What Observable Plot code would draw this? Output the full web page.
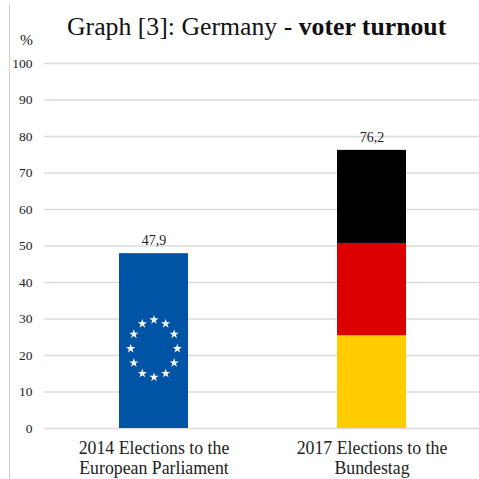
<!DOCTYPE html>
<html>
<head>
<meta charset="utf-8">
<script src="https://cdn.jsdelivr.net/npm/d3@7"></script>
<script src="https://cdn.jsdelivr.net/npm/@observablehq/plot@0.6"></script>
<style>
html,body{margin:0;padding:0;background:#fff;width:479px;height:479px;overflow:hidden;font-family:"Liberation Serif",serif;}
#wrap{position:relative;width:479px;height:479px;}
#vline{position:absolute;left:9px;top:4px;bottom:0;width:1px;background:#cfcfcf;}
#head{position:absolute;left:0;top:0;width:479px;height:46px;}
#title{position:absolute;left:67px;top:11px;font-size:25.75px;line-height:32px;white-space:nowrap;color:#111;}
#unit{position:absolute;left:20px;top:31px;font-size:15.5px;line-height:18px;color:#222;}
#chart{position:absolute;left:0;top:46px;}
svg{display:block;}
</style>
</head>
<body>
<div id="wrap">
<div id="vline"></div>
<div id="head"><div id="title">Graph [3]: Germany - <b>voter turnout</b></div><div id="unit">%</div></div>
<div id="chart"></div>
</div>
<script>
const categories = ["2014 Elections to the\nEuropean Parliament", "2017 Elections to the\nBundestag"];
const totals = [47.9, 76.2];
const totalLabels = ["47,9", "76,2"];
const yTicks = [0,10,20,30,40,50,60,70,80,90,100];
const euColor = "#0054a5";
const flagBands = [0, 25.4, 50.7, 76.2];
const flagColors = ["#ffcc00", "#dd0000", "#000000"];
const starCenter = 21.9;
const starAngles = [0,30,60,90,120,150,180,210,240,270,300,330];

const bandRows = flagColors.map((c,i)=>({x:categories[1], y1:flagBands[i], y2:flagBands[i+1], c}));
const labelRows = categories.map((x,i)=>({x, y:totals[i], t:totalLabels[i]}));

const plot = Plot.plot({
  width: 479, height: 433,
  marginTop: 17, marginBottom: 51, marginLeft: 44, marginRight: 0,
  style: {background:"transparent", fontFamily:"'Liberation Serif',serif", overflow:"hidden"},
  x: {domain: categories, range:[44.5,480.5], paddingInner:0.683, paddingOuter:0.3415, label:null},
  y: {domain:[0,100], label:null},
  marks: [
    Plot.ruleY(yTicks, {stroke:"#dcdcdc", strokeWidth:1.4}),
    Plot.axisY({ticks:yTicks, tickSize:0, tickPadding:12, fontSize:13.5, fill:"#222", label:null, tickFormat:d=>String(d)}),
    Plot.axisX({tickSize:0, tickPadding:11, fontSize:17.8, fill:"#222", lineHeight:1.12, label:null}),
    Plot.barY([{x:categories[0], y:totals[0]}], {x:"x", y:"y", fill:euColor}),
    Plot.barY(bandRows, {x:"x", y1:"y1", y2:"y2", fill:d=>d.c}),
    ...starAngles.map(a=>Plot.dot([{x:categories[0], y:starCenter}], {
      x:"x", y:"y", symbol:"star", r:2.9, fill:"#fff", stroke:"none",
      dx:23.3*Math.sin(a*Math.PI/180), dy:-28.7*Math.cos(a*Math.PI/180)
    })),
    Plot.text(labelRows, {x:"x", y:"y", text:"t", dy:-13, fontSize:14, fill:"#222"})
  ]
});
document.getElementById("chart").appendChild(plot);
</script>
</body>
</html>
